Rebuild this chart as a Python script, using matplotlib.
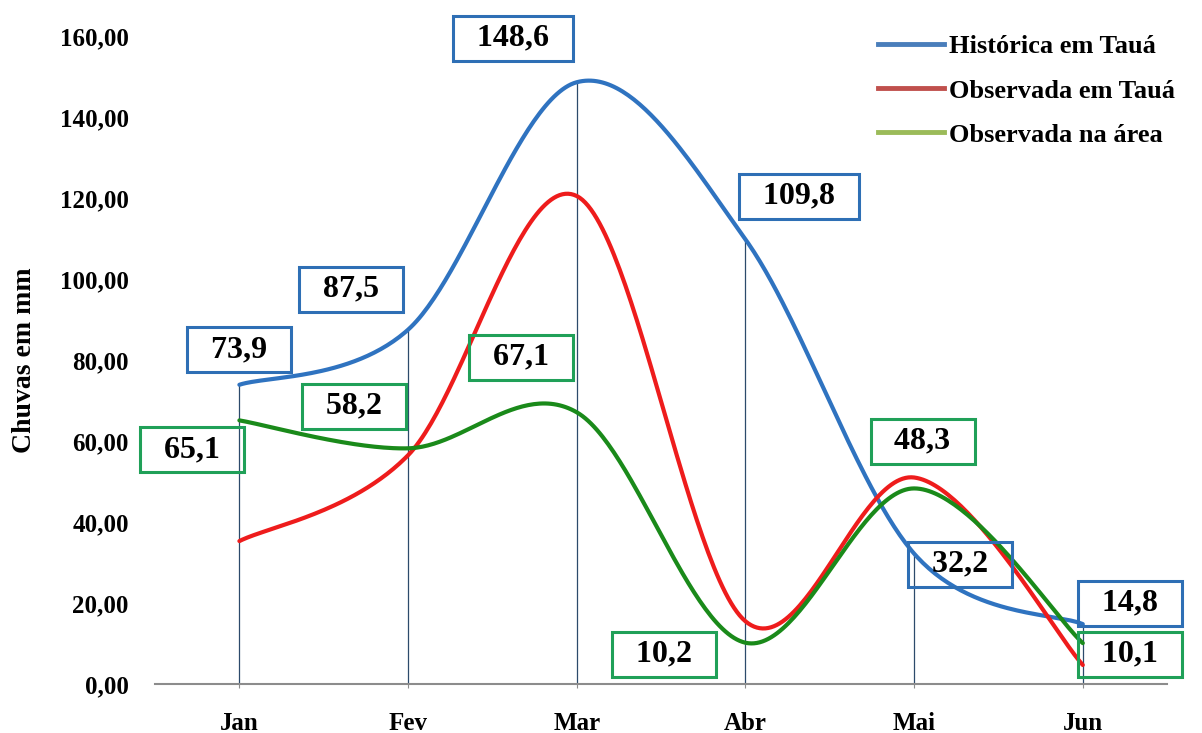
import numpy as np
import matplotlib.pyplot as plt
from matplotlib.lines import Line2D

plt.rcParams["font.family"] = ["Liberation Serif", "DejaVu Serif"]
plt.rcParams["font.weight"] = "bold"

# ------------------------------------------------------------
# Data (mm de chuva por mês)
# ------------------------------------------------------------
meses = ["Jan", "Fev", "Mar", "Abr", "Mai", "Jun"]
historica_taua = [73.9, 87.5, 148.6, 109.8, 32.2, 14.8]
observada_taua = [35.3, 56.5, 120.5, 15.5, 51.0, 4.7]
observada_area = [65.1, 58.2, 67.1, 10.2, 48.3, 10.1]

# label centres (x in category units, y in mm)
pos_hist = [(0.00, 82.5), (0.66, 97.5), (1.62, 159.5),
            (3.32, 120.5), (4.27, 29.6), (5.28, 20.0)]
pos_area = [(-0.28, 57.8), (0.68, 68.6), (1.67, 80.7),
            (2.52, 7.4), (4.05, 60.0), (5.28, 7.4)]


def smooth(y, n=60):
    """Catmull-Rom curve through the points (Excel-style smoothing)."""
    x = np.arange(len(y), dtype=float)
    y = np.asarray(y, dtype=float)
    px = np.concatenate([[x[0]], x, [x[-1]]])
    py = np.concatenate([[y[0]], y, [y[-1]]])
    t = np.linspace(0, 1, n)
    xs, ys = [], []
    for i in range(1, len(px) - 2):
        for p, out in ((px, xs), (py, ys)):
            p0, p1, p2, p3 = p[i - 1], p[i], p[i + 1], p[i + 2]
            c1 = p1 + (p2 - p0) / 6
            c2 = p2 - (p3 - p1) / 6
            out.append((1 - t) ** 3 * p1 + 3 * (1 - t) ** 2 * t * c1
                       + 3 * (1 - t) * t ** 2 * c2 + t ** 3 * p2)
    return np.concatenate(xs), np.concatenate(ys)


fig = plt.figure(figsize=(12.02, 7.33), dpi=100)
ax = fig.add_axes([0.129, 0.0668, 0.842, 0.884])

x = np.arange(len(meses))

# drop lines from the historical series
ax.vlines(x, 0, historica_taua, color="#2c4a6b", lw=0.9, zorder=1)

for serie, cor in ((historica_taua, "#2f73c0"),
                   (observada_taua, "#ee1c1c"),
                   (observada_area, "#1a8a1a")):
    sx, sy = smooth(serie)
    ax.plot(sx, sy, color=cor, lw=3, solid_capstyle="round", zorder=3,
            clip_on=False)


def rotulo(txt, xy, cor):
    ax.text(xy[0], xy[1], "  " + txt + "  ", ha="center", va="center",
            fontsize=23, fontweight="bold", color="black", zorder=5,
            bbox=dict(boxstyle="square,pad=0.25", fc="none", ec=cor, lw=2.2),
            clip_on=False)


for v, p in zip(historica_taua, pos_hist):
    rotulo(f"{v:.1f}".replace(".", ","), p, "#2e6fb5")
for v, p in zip(observada_area, pos_area):
    rotulo(f"{v:.1f}".replace(".", ","), p, "#20a058")

ax.set_xlim(-0.5, 5.5)
ax.set_ylim(0, 160)
ax.set_xticks(x)
ax.set_xticklabels(meses, fontsize=18, fontweight="bold")
ax.set_yticks(np.arange(0, 161, 20))
ax.set_yticklabels([f"{v:.2f}".replace(".", ",") for v in range(0, 161, 20)],
                   fontsize=18, fontweight="bold")
ax.tick_params(axis="y", length=0, pad=19)
ax.tick_params(axis="x", length=3, color="#8c8c8c", pad=17)

for s in ("top", "right", "left"):
    ax.spines[s].set_visible(False)
ax.spines["bottom"].set_color("#8c8c8c")
ax.spines["bottom"].set_linewidth(1.5)

ax.set_ylabel("Chuvas em mm", fontsize=20, fontweight="bold")
ax.yaxis.set_label_coords(-0.117, 0.5)

handles = [Line2D([], [], color="#4a7ebb", lw=3.5),
           Line2D([], [], color="#c0504d", lw=3.5),
           Line2D([], [], color="#9bbb59", lw=3.5)]
fig.legend(handles, ["Histórica em Tauá", "Observada em Tauá",
                     "Observada na área"],
           loc="upper left", bbox_to_anchor=(878 / 1202, 1 - 35 / 733),
           frameon=False, handlelength=2.5, handletextpad=0.2,
           labelspacing=0.78, borderpad=0, borderaxespad=0,
           prop=dict(weight="bold", size=19))

fig.savefig("out.png", dpi=100)
